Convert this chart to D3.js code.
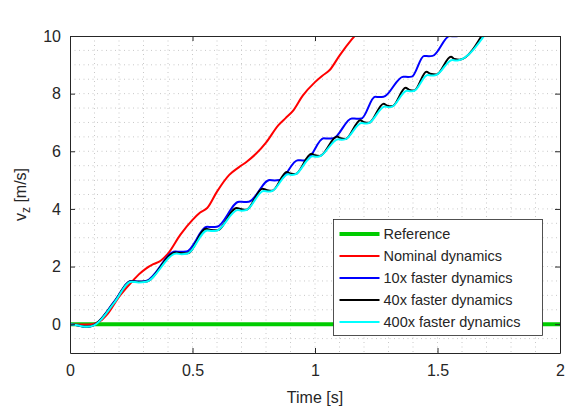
<!DOCTYPE html>
<html>
<head>
<meta charset="utf-8">
<script src="https://d3js.org/d3.v7.min.js"></script>
<style>
  body { margin: 0; background: #fff; }
  text { font-family: "Liberation Sans", Arial, sans-serif; fill: #262626; }
</style>
</head>
<body>
<script>

// reference (green)
var refTime = [0, 2];
var refVal = [0, 0];

// nominal dynamics (red)
var redTime = [0, 0.05, 0.09, 0.11, 0.13, 0.15, 0.2, 0.25, 0.28, 0.31, 0.34, 0.37, 0.4, 0.45, 0.5, 0.53, 0.56, 0.6, 0.65, 0.69, 0.72, 0.76, 0.8, 0.85, 0.88, 0.91, 0.95, 1.0, 1.03, 1.06, 1.1, 1.15, 1.2];
var redVal = [0, -0.01, 0, 0.05, 0.15, 0.32, 0.95, 1.45, 1.72, 1.93, 2.08, 2.2, 2.45, 3.1, 3.62, 3.87, 4.03, 4.6, 5.18, 5.45, 5.63, 5.92, 6.3, 6.9, 7.15, 7.4, 7.93, 8.4, 8.62, 8.82, 9.32, 9.88, 10.35];

// 10x faster dynamics (blue)
var blueTime = [0, 0.03, 0.07, 0.1, 0.12, 0.18, 0.25, 0.28, 0.31, 0.43, 0.45, 0.475, 0.56, 0.58, 0.6, 0.69, 0.71, 0.73, 0.815, 0.835, 0.855, 0.93, 0.95, 0.965, 1.035, 1.055, 1.075, 1.15, 1.17, 1.19, 1.245, 1.265, 1.28, 1.36, 1.38, 1.395, 1.445, 1.465, 1.48, 1.55, 1.57, 1.585, 1.65];
var blueVal = [0, -0.04, -0.09, -0.02, 0.12, 0.78, 1.5, 1.48, 1.5, 2.52, 2.51, 2.52, 3.38, 3.37, 3.38, 4.25, 4.24, 4.25, 5.0, 4.99, 5.0, 5.69, 5.68, 5.69, 6.45, 6.44, 6.45, 7.14, 7.13, 7.14, 7.89, 7.88, 7.89, 8.59, 8.58, 8.59, 9.31, 9.3, 9.31, 10.0, 9.99, 10.0, 10.6];

// 40x faster dynamics (black)
var blackTime = [0, 0.03, 0.07, 0.1, 0.12, 0.18, 0.25, 0.28, 0.31, 0.43, 0.45, 0.48, 0.555, 0.575, 0.6, 0.68, 0.7, 0.72, 0.785, 0.805, 0.825, 0.885, 0.9, 0.92, 0.985, 1.0, 1.02, 1.09, 1.105, 1.125, 1.185, 1.2, 1.22, 1.28, 1.295, 1.315, 1.37, 1.385, 1.405, 1.455, 1.47, 1.495, 1.555, 1.57, 1.59, 1.69];
var blackVal = [0, -0.04, -0.09, -0.02, 0.12, 0.76, 1.49, 1.47, 1.48, 2.49, 2.47, 2.46, 3.31, 3.27, 3.26, 4.03, 3.99, 3.97, 4.7, 4.65, 4.63, 5.28, 5.23, 5.21, 5.91, 5.86, 5.84, 6.51, 6.45, 6.43, 7.08, 7.01, 6.99, 7.65, 7.58, 7.56, 8.2, 8.13, 8.11, 8.76, 8.69, 8.66, 9.28, 9.2, 9.18, 10.15];

// 400x faster dynamics (cyan)
var cyanTime = [0, 0.03, 0.07, 0.1, 0.12, 0.18, 0.25, 0.28, 0.31, 0.435, 0.455, 0.48, 0.56, 0.58, 0.6, 0.685, 0.7, 0.72, 0.79, 0.81, 0.825, 0.89, 0.905, 0.92, 0.99, 1.005, 1.02, 1.095, 1.11, 1.125, 1.19, 1.205, 1.22, 1.285, 1.3, 1.315, 1.375, 1.39, 1.405, 1.46, 1.475, 1.495, 1.56, 1.575, 1.59, 1.7];
var cyanVal = [0, -0.04, -0.09, -0.03, 0.1, 0.74, 1.47, 1.45, 1.47, 2.45, 2.43, 2.45, 3.25, 3.23, 3.25, 3.96, 3.94, 3.96, 4.62, 4.6, 4.62, 5.2, 5.18, 5.2, 5.83, 5.81, 5.83, 6.42, 6.4, 6.42, 6.98, 6.96, 6.98, 7.55, 7.53, 7.55, 8.1, 8.08, 8.1, 8.65, 8.63, 8.65, 9.17, 9.15, 9.17, 10.12];

var xTicks = [0, 0.5, 1, 1.5, 2];
var yTicks = [0, 2, 4, 6, 8, 10];
var legendNames = ["Reference", "Nominal dynamics", "10x faster dynamics", "40x faster dynamics", "400x faster dynamics"];

var margin = {top: 36, right: 6, bottom: 61, left: 70},
    width = 566 - margin.left - margin.right,
    height = 414 - margin.top - margin.bottom;

var svg = d3.select("body").append("svg")
    .attr("width", 566)
    .attr("height", 414);

var g = svg.append("g")
    .attr("transform", "translate(" + margin.left + "," + margin.top + ")");

var x = d3.scaleLinear().domain([0, 2]).range([0, width]);
var y = d3.scaleLinear().domain([-1, 10]).range([height, 0]);

// dotted grid, major + minor
var gridColor = "#c8c8c8";
g.append("g").selectAll("line")
    .data(d3.range(1, 20).map(function(i) { return i / 10; }))
    .enter().append("line")
    .attr("x1", function(d) { return x(d); })
    .attr("x2", function(d) { return x(d); })
    .attr("y1", 0).attr("y2", height)
    .attr("stroke", gridColor)
    .attr("stroke-width", 1)
    .attr("stroke-dasharray", "1,3.5");

g.append("g").selectAll("line")
    .data(d3.range(-1, 20).map(function(i) { return i / 2; }))
    .enter().append("line")
    .attr("y1", function(d) { return y(d); })
    .attr("y2", function(d) { return y(d); })
    .attr("x1", 0).attr("x2", width)
    .attr("stroke", gridColor)
    .attr("stroke-width", 1)
    .attr("stroke-dasharray", "1,3.5");

svg.append("clipPath").attr("id", "clip")
  .append("rect").attr("width", width).attr("height", height);

var plot = g.append("g").attr("clip-path", "url(#clip)");

var line = d3.line()
    .x(function(d) { return x(d[0]); })
    .y(function(d) { return y(d[1]); })
    .curve(d3.curveMonotoneX);

var series = [
  {t: refTime, v: refVal, color: "#00cc00", w: 4},
  {t: redTime, v: redVal, color: "#ff0000", w: 2},
  {t: blueTime, v: blueVal, color: "#0000ff", w: 2},
  {t: blackTime, v: blackVal, color: "#000000", w: 2},
  {t: cyanTime, v: cyanVal, color: "#00ffff", w: 2}
];

series.forEach(function(s) {
  plot.append("path")
      .datum(d3.zip(s.t, s.v))
      .attr("fill", "none")
      .attr("stroke", s.color)
      .attr("stroke-width", s.w)
      .attr("stroke-linejoin", "round")
      .attr("d", line);
});

// axes (ticks inward, box on)
var axisColor = "#262626";
var xAxis = g.append("g")
    .attr("transform", "translate(0," + height + ")")
    .call(d3.axisBottom(x).tickValues(xTicks).tickSizeInner(-5).tickSizeOuter(0).tickPadding(12)
      .tickFormat(function(d) { return d; }));
var xTop = g.append("g")
    .call(d3.axisTop(x).tickValues(xTicks).tickSizeInner(-5).tickSizeOuter(0).tickFormat(""));
var yAxis = g.append("g")
    .call(d3.axisLeft(y).tickValues(yTicks).tickSizeInner(-5).tickSizeOuter(0).tickPadding(9));
var yRight = g.append("g")
    .attr("transform", "translate(" + width + ",0)")
    .call(d3.axisRight(y).tickValues(yTicks).tickSizeInner(-5).tickSizeOuter(0).tickFormat(""));

[xAxis, xTop, yAxis, yRight].forEach(function(a) {
  a.select(".domain").attr("stroke", axisColor).attr("stroke-width", 1);
  a.selectAll(".tick line").attr("stroke", axisColor);
  a.selectAll(".tick text")
      .attr("fill", axisColor)
      .style("font-size", "16px")
      .style("font-family", "'Liberation Sans', Arial, sans-serif");
});

// labels
svg.append("text")
    .attr("x", margin.left + width / 2)
    .attr("y", 403)
    .attr("text-anchor", "middle")
    .style("font-size", "16px")
    .text("Time [s]");

var yl = svg.append("text")
    .attr("transform", "translate(26," + (margin.top + y(4.5)) + ") rotate(-90)")
    .attr("text-anchor", "middle")
    .style("font-size", "16px");
yl.append("tspan").text("v");
yl.append("tspan").attr("dy", 4).style("font-size", "12px").text("z");
yl.append("tspan").attr("dy", -4).text(" [m/s]");

// legend
var lg = svg.append("g").attr("transform", "translate(333.5,219.5)");
lg.append("rect")
    .attr("width", 209)
    .attr("height", 116)
    .attr("fill", "#fff")
    .attr("stroke", axisColor)
    .attr("stroke-width", 0.8);

var items = lg.selectAll("g.item")
    .data(series)
    .enter().append("g")
    .attr("transform", function(d, i) { return "translate(0," + (14.5 + i * 22) + ")"; });

items.append("line")
    .attr("x1", 6).attr("x2", 46)
    .attr("stroke", function(d) { return d.color; })
    .attr("stroke-width", function(d) { return d.w; });

items.append("text")
    .attr("x", 50)
    .attr("dy", "0.35em")
    .style("font-size", "14.5px")
    .text(function(d, i) { return legendNames[i]; });

</script>
</body>
</html>
